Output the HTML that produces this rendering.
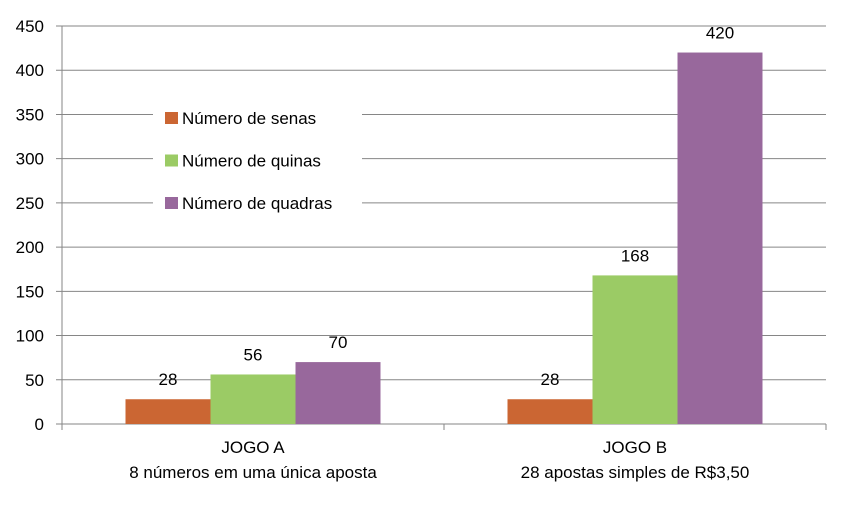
<!DOCTYPE html>
<html><head><meta charset="utf-8"><style>
body{margin:0;background:#fff}
svg text{font-family:"Liberation Sans",sans-serif;fill:#000}
</style></head><body>
<svg id="c" width="863" height="526" xmlns="http://www.w3.org/2000/svg"></svg>
<script>
const categories=["JOGO A","JOGO B"];
const subtitles=["8 números em uma única aposta","28 apostas simples de R$3,50"];
const seriesNames=["Número de senas","Número de quinas","Número de quadras"];
const senas=[28,28];
const quinas=[56,168];
const quadras=[70,420];
const yTicks=[0,50,100,150,200,250,300,350,400,450];
const colors=["#CB6633","#9BCB65","#98689C"];
const svg=document.getElementById('c');
const NS="http://www.w3.org/2000/svg";
const L=62,R=826,T=26,B=424,yMax=450;
const y=v=>B-(v/yMax)*(B-T);
const catW=(R-L)/categories.length;
const barW=85;
const FS=17;
function el(t,a,txt){const e=document.createElementNS(NS,t);for(const k in a)e.setAttribute(k,a[k]);if(txt!==undefined)e.textContent=txt;svg.appendChild(e);return e;}
yTicks.forEach(v=>{
 const g=el('line',{x1:56,x2:R,y1:y(v),y2:y(v),stroke:'#868686','stroke-width':1});
 
 
 const t=el('text',{x:44,y:y(v)+6,'text-anchor':'end','font-size':FS},v);
 
 
});
const ax=el('line',{x1:L,x2:L,y1:T,y2:B,stroke:'#868686'});


for(let i=0;i<=categories.length;i++){
 const tk=el('line',{x1:L+i*catW,x2:L+i*catW,y1:B,y2:B+6,stroke:'#868686'});
 
 
}
const series=[senas,quinas,quadras];
categories.forEach((c,i)=>{
 const cx=L+catW*(i+0.5);
 const x0=cx-1.5*barW;
 series.forEach((s,j)=>{
  const r=el('rect',{x:x0+j*barW,y:y(s[i]),width:barW,height:B-y(s[i]),fill:colors[j]});
  
  
  const lb=el('text',{x:x0+(j+0.5)*barW,y:y(s[i])-14,'text-anchor':'middle','font-size':FS},s[i]);
  
  
 });
 const t1=el('text',{x:cx,y:453,'text-anchor':'middle','font-size':FS},c);
 
 
 const t2=el('text',{x:cx,y:478,'text-anchor':'middle','font-size':FS},subtitles[i]);
 
 
});
const lg=el('rect',{x:153,y:96,width:209,height:124,fill:'#fff'});


seriesNames.forEach((n,j)=>{
 const yy=118+j*42.5;
 const sq=el('rect',{x:165,y:yy-6,width:13,height:12,fill:colors[j]});
 
 
 const t=el('text',{x:182,y:yy+6,'font-size':FS},n);
 
 
});
</script>
</body></html>
